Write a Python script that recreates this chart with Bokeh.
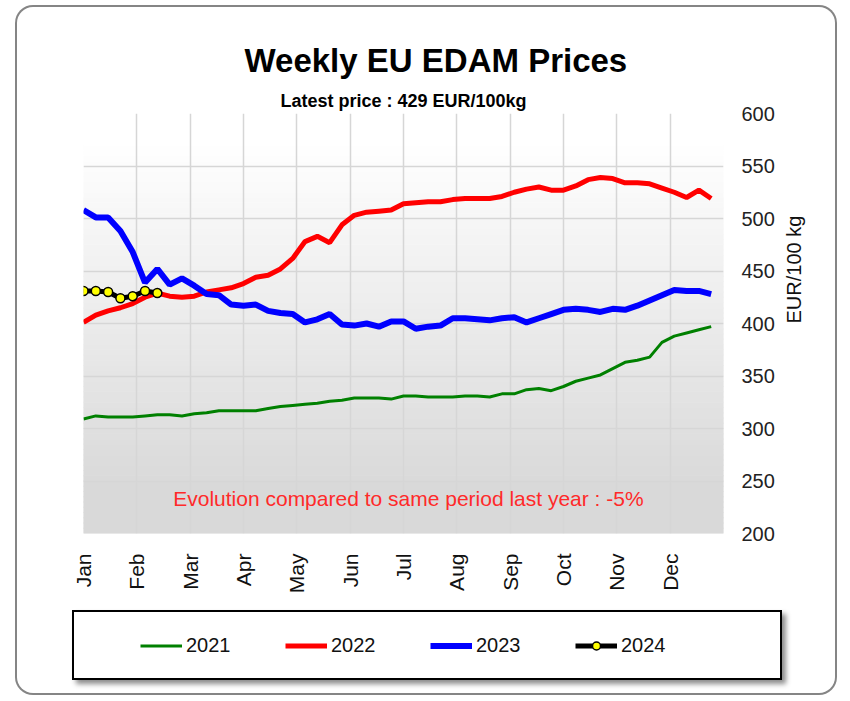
import numpy as np
from bokeh.plotting import figure
from bokeh.layouts import column
from bokeh.models import Range1d, FixedTicker, Title, Label, Legend, LegendItem
from bokeh.embed import file_html
from bokeh.resources import INLINE

# ---------------- data ----------------
weeks = list(range(52))
weeks_2024 = list(range(7))

prices_2021 = [309, 312, 311, 311, 311, 312, 313, 313, 312, 314,
               315, 317, 317, 317, 317, 319, 321, 322, 323, 324,
               326, 327, 329, 329, 329, 328, 331, 331, 330, 330,
               330, 331, 331, 330, 333, 333, 337, 338, 336, 340,
               345, 348, 351, 357, 363, 365, 368, 382, 388, 391,
               394, 397]
prices_2022 = [401, 408, 412, 415, 419, 425, 429, 426, 425, 426,
               430, 432, 434, 438, 444, 446, 452, 462, 478, 483,
               477, 494, 503, 506, 507, 508, 514, 515, 516, 516,
               518, 519, 519, 519, 521, 525, 528, 530, 527, 527,
               531, 537, 539, 538, 534, 534, 533, 529, 525, 520,
               527, 519]
prices_2023 = [508, 501, 501, 488, 468, 439, 452, 437, 443, 436,
               428, 427, 418, 417, 418, 412, 410, 409, 401, 404,
               409, 399, 398, 400, 397, 402, 402, 395, 397, 398,
               405, 405, 404, 403, 405, 406, 401, 405, 409, 413,
               414, 413, 411, 414, 413, 417, 422, 427, 432, 431,
               431, 428]
prices_2024 = [431, 431, 430, 424, 426, 431, 429]

series_labels = ["2021", "2022", "2023", "2024"]
series_colors = ["#008000", "#ff0000", "#0000ff", "black"]
month_labels = ["Jan", "Feb", "Mar", "Apr", "May", "Jun",
                "Jul", "Aug", "Sep", "Oct", "Nov", "Dec"]
y_ticks = [200, 250, 300, 350, 400, 450, 500, 550, 600]

title_text = "Weekly EU EDAM Prices"
subtitle_text = "Latest price : 429 EUR/100kg"
note_text = "Evolution compared to same period last year : -5%"
y_label = "EUR/100 kg"

FONT = "Liberation Sans"
LW = [3, 5, 6, 5]

# ---------------- geometry (page pixels) ----------------
OX, OY = 17, 7                     # card origin on the page
W, H = 818, 686                    # card size
FR_L, FR_R, FR_T, FR_B = 83, 723, 113, 533
LG_L, LG_T, LG_W, LG_H = 72, 610, 710, 70
MAIN_H = LG_T - OY
BL, BR = FR_L - OX, W - (FR_R - OX)   # left / right borders of the main frame

p = figure(width=W, height=MAIN_H, output_backend="svg", toolbar_location=None,
           title=None, x_range=Range1d(0, 52), y_range=Range1d(200, 600),
           y_axis_location="right",
           min_border_left=BL, min_border_right=BR,
           min_border_top=FR_T - OY, min_border_bottom=MAIN_H - (FR_B - OY))
p.background_fill_color = "white"
p.border_fill_color = None
p.outline_line_color = None

# vertical gradient background (white top -> light grey bottom)
edges = np.linspace(200, 600, 81)
mids = (edges[:-1] + edges[1:]) / 2
t = np.clip((mids - 240) / (570 - 240), 0, 1)
g = (217 + 38 * t).astype(int)
shades = ["#%02x%02x%02x" % (v, v, v) for v in g]
p.quad(left=0, right=52, bottom=edges[:-1], top=edges[1:],
       fill_color=shades, line_color=shades, line_width=1, level="image")

# ticks / grid
month_pos = [m * 52 / 12 for m in range(12)]
xa = p.xaxis[0]
xa.ticker = FixedTicker(ticks=month_pos)
xa.major_label_overrides = {pos: lab for pos, lab in zip(month_pos, month_labels)}
xa.major_label_orientation = np.pi / 2
xa.major_label_standoff = 14
xa.axis_line_color = None
xa.major_tick_line_color = None
xa.minor_tick_line_color = None
xa.major_label_text_font = FONT
xa.major_label_text_font_size = "21px"
xa.major_label_text_color = "#111111"

ya = p.yaxis[0]
ya.ticker = FixedTicker(ticks=y_ticks)
ya.major_label_standoff = 12
ya.axis_line_color = None
ya.major_tick_line_color = None
ya.minor_tick_line_color = None
ya.major_label_text_font = FONT
ya.major_label_text_font_size = "20px"
ya.major_label_text_color = "#222222"
ya.axis_label = y_label
ya.axis_label_text_font = FONT
ya.axis_label_text_font_size = "20px"
ya.axis_label_text_font_style = "normal"
ya.axis_label_text_color = "#111111"
ya.axis_label_standoff = 16
if "axis_label_orientation" in ya.properties():
    ya.axis_label_orientation = np.pi / 2

p.xgrid.ticker = FixedTicker(ticks=month_pos)
p.ygrid.ticker = FixedTicker(ticks=y_ticks)
for gr in (p.xgrid[0], p.ygrid[0]):
    gr.grid_line_color = "#d6d6d6"
    gr.grid_line_width = 1.5

# ---------------- series ----------------
def draw_series(fig):
    return [fig.line(weeks, prices_2021, line_color=series_colors[0], line_width=LW[0]),
            fig.line(weeks, prices_2022, line_color=series_colors[1], line_width=LW[1]),
            fig.line(weeks, prices_2023, line_color=series_colors[2], line_width=LW[2]),
            fig.line(weeks_2024, prices_2024, line_color=series_colors[3], line_width=LW[3]),
            fig.scatter(weeks_2024, prices_2024, size=9, fill_color="#ffff00",
                        line_color="black", line_width=1.5)]

draw_series(p)

# ---------------- titles ----------------
sub = Title(text=subtitle_text, align="center", text_font=FONT,
            text_font_size="18px", text_font_style="bold",
            text_color="black", standoff=6)
p.add_layout(sub, "above")
main = Title(text=title_text, align="left", offset=244 - FR_L, text_font=FONT,
             text_font_size="33px", text_font_style="bold",
             text_color="black", standoff=14)
p.add_layout(main, "above")

note = Label(x=26.4, y=233, text=note_text, text_align="center",
             text_baseline="middle", text_font=FONT, text_font_size="21px",
             text_color="#ff2a2a")
p.add_layout(note)

# ---------------- legend (separate boxed panel) ----------------
# same series drawn in a panel whose ranges keep them out of view;
# only the legend entries of this panel are visible
lg = figure(width=LG_W, height=LG_H, output_backend="svg", toolbar_location=None,
            title=None, x_axis_type=None, y_axis_type=None,
            min_border_left=BL, min_border_right=BR,
            min_border_top=0, min_border_bottom=0,
            x_range=Range1d(-3, -2), y_range=Range1d(0, 1))
lg.background_fill_color = None
lg.border_fill_color = None
lg.outline_line_color = None
lg.xgrid.visible = False
lg.ygrid.visible = False

k = draw_series(lg)
legend = Legend(items=[LegendItem(label=series_labels[0], renderers=[k[0]]),
                       LegendItem(label=series_labels[1], renderers=[k[1]]),
                       LegendItem(label=series_labels[2], renderers=[k[2]]),
                       LegendItem(label=series_labels[3], renderers=[k[3], k[4]])],
                orientation="horizontal", location="center",
                padding=0, spacing=52, margin=0,
                glyph_width=42, glyph_height=20, label_standoff=4,
                label_width=47, label_text_font=FONT,
                label_text_font_size="20px", label_text_color="#111111",
                border_line_color=None, background_fill_alpha=0)
lg.add_layout(legend)

legend_box = column(lg, width=LG_W, height=LG_H,
                    margin=(0, 0, H - MAIN_H - LG_H, LG_L - OX),
                    styles={"overflow": "hidden", "background-color": "white",
                            "box-shadow": "inset 0 0 0 2px #000000, 4px 4px 5px rgba(0,0,0,0.45)"})

card = column(p, legend_box, margin=(OY, 0, 0, OX),
              styles={"box-shadow": "0 0 0 2px #858585", "border-radius": "16px",
                      "background-color": "white"})

open("out.html", "w").write(file_html(card, INLINE))
